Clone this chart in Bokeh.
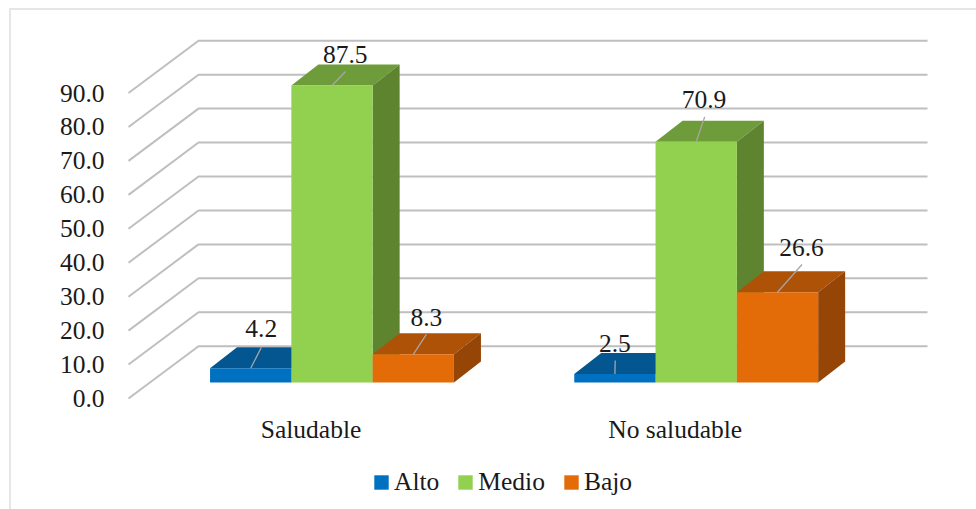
from bokeh.plotting import figure
from bokeh.models import Range1d, LinearAxis, FixedTicker, Legend, LegendItem
from bokeh.core.properties import value
from bokeh.embed import file_html
from bokeh.resources import INLINE

categories = ["Saludable", "No saludable"]
series = ["Alto", "Medio", "Bajo"]
alto = [4.2, 2.5]
medio = [87.5, 70.9]
bajo = [8.3, 26.6]
y_ticks = [0, 10, 20, 30, 40, 50, 60, 70, 80, 90]

front_colors = ["#0070C0", "#92D050", "#E36C09"]
top_colors = ["#03568F", "#6F9C3B", "#AD5207"]
side_colors = ["#024E82", "#5E8430", "#954505"]
FONT = "Liberation Serif"
FS = "25.5px"

# scale: px per unit
XPX, YPX = 364.2, 3.394
W, H = 976, 509
FRAME_L, FRAME_R, FRAME_T, FRAME_B = 114, 940, 20, 509
ORIGIN_X, BASE_Y = 331.5, 382
BAR_W = 81.3 / XPX
DX, DY = 27 / XPX, 21 / YPX
WALL_FRONT_X, WALL_BACK_X, GRID_END_X = 128, 198, 927
WALL_FRONT_Y, WALL_BACK_Y = 398, 345.7
LABEL_SHIFT_X = 21.0
CAT_LABEL_Y = 429


def xd(px):
    return (px - ORIGIN_X) / XPX


def yd(py):
    return (BASE_Y - py) / YPX


p = figure(
    width=W, height=H, output_backend="svg", toolbar_location=None,
    x_range=Range1d(xd(FRAME_L), xd(FRAME_R)), y_range=Range1d(yd(FRAME_B), yd(FRAME_T)),
    min_border_left=FRAME_L, min_border_right=W - FRAME_R,
    min_border_top=FRAME_T, min_border_bottom=0,
    frame_width=FRAME_R - FRAME_L, frame_height=FRAME_B - FRAME_T,
    background_fill_alpha=0, border_fill_alpha=0, outline_line_color=None,
)
p.xaxis.visible = False
p.yaxis.visible = False
p.xgrid.visible = False
p.ygrid.visible = False

# Outer chart border: top and left edges, painted behind the transparent canvas
p.styles = {
    "background-image": "linear-gradient(#E6E6E6,#E6E6E6),linear-gradient(#E6E6E6,#E6E6E6)",
    "background-size": "100% 2px,2px 100%",
    "background-position": "9px 8px,9px 8px",
    "background-repeat": "no-repeat",
}

# Value axis on its own range: the side wall's front edge
wall_off = (WALL_FRONT_Y - BASE_Y) / YPX
p.extra_y_ranges = {"wall": Range1d(yd(FRAME_B) + wall_off, yd(FRAME_T) + wall_off)}
yax = LinearAxis(y_range_name="wall", ticker=FixedTicker(ticks=y_ticks),
                 major_label_overrides={t: f"{t:.1f}" for t in y_ticks},
                 axis_line_color=None, major_tick_line_color=None, minor_tick_line_color=None,
                 major_label_text_font=FONT, major_label_text_font_size=FS,
                 major_label_text_color="#1a1a1a", major_label_standoff=4)
p.add_layout(yax, "left")

# Gridlines on side wall and back wall
front_off = wall_off
back_off = (WALL_BACK_Y - BASE_Y) / YPX
xs = [[xd(WALL_FRONT_X), xd(WALL_BACK_X), xd(GRID_END_X)] for _ in y_ticks]
ys = [[t - front_off, t - back_off, t - back_off] for t in y_ticks]
p.multi_line(xs, ys, line_color="#BFBFBF", line_width=2)

# Bars
rows = [alto, medio, bajo]
renderers = []
for c in range(len(categories)):
    for s, row in enumerate(rows):
        v = row[c]
        l = c + (s - 1.5) * BAR_W
        r = l + BAR_W
        p.patch([l, l + DX, r + DX, r], [v, v + DY, v + DY, v], fill_color=top_colors[s], line_color=None)
        p.patch([r, r + DX, r + DX, r], [0, DY, v + DY, v], fill_color=side_colors[s], line_color=None)
        g = p.vbar(x=[c + (s - 1) * BAR_W], top=[v], bottom=0, width=BAR_W,
                   fill_color=front_colors[s], line_color=None)
        if c == 0:
            renderers.append(g)

# Category labels
p.text([i - LABEL_SHIFT_X / XPX for i in range(len(categories))],
       [yd(CAT_LABEL_Y)] * len(categories), text=categories,
       text_align="center", text_baseline="middle", text_font=value(FONT),
       text_font_size=FS, text_color="#1a1a1a")

# Data labels: offsets in px from the front-top centre of each bar
label_dx = [[10.6, 0.0], [13.2, 7.8], [13.1, 24.0]]
label_dy = [[-40.0, -30.5], [-31.0, -42.0], [-37.0, -45.0]]
leader_dx = [[10.6, 0.3], [13.5, 8.5], [13.1, 24.5]]
leader_dy = [[-20.7, -13.5], [-14.0, -25.0], [-20.0, -27.7]]
for s, row in enumerate(rows):
    for c, v in enumerate(row):
        x = c + (s - 1) * BAR_W
        p.segment([x], [v], [x + leader_dx[s][c] / XPX], [v - leader_dy[s][c] / YPX],
                  line_color="#A6A6A6", line_width=1.3)
        p.text([x], [v], text=[f"{v:.1f}"], x_offset=label_dx[s][c], y_offset=label_dy[s][c],
               text_align="center", text_baseline="middle", text_font=value(FONT),
               text_font_size=FS, text_color="#1a1a1a")

legend = Legend(items=[LegendItem(label=n, renderers=[r]) for n, r in zip(series, renderers)],
                orientation="horizontal", location=(372 - FRAME_L, 12), border_line_color=None,
                background_fill_alpha=0, border_line_alpha=0,
                glyph_width=18, glyph_height=18, label_standoff=4, spacing=17, padding=0,
                margin=0, label_text_font=FONT, label_text_font_size=FS,
                label_text_color="#1a1a1a")
p.add_layout(legend, "center")

open("out.html", "w").write(file_html(p, INLINE))
